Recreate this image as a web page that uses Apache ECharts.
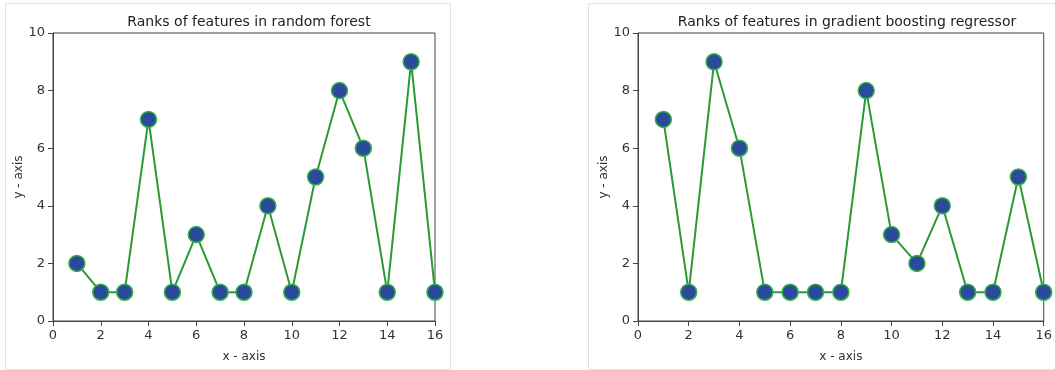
<!DOCTYPE html>
<html>
<head>
<meta charset="utf-8">
<script src="https://cdn.jsdelivr.net/npm/echarts@6/dist/echarts.min.js"></script>
<style>html,body{margin:0;padding:0;background:#fff;}#c{width:1055px;height:370px;}</style>
</head>
<body>
<div id="c"></div>
<script>
var xValues = [1,2,3,4,5,6,7,8,9,10,11,12,13,14,15,16];
var rfRanks = [2,1,1,7,1,3,1,1,4,1,5,8,6,1,9,1];
var gbrRanks = [7,1,9,6,1,1,1,1,8,3,2,4,1,1,5,1];
var titles = ['Ranks of features in random forest', 'Ranks of features in gradient boosting regressor'];

function pairs(ys){ return xValues.map(function(x,i){ return [x, ys[i]]; }); }

var font = 'DejaVu Sans';
var grids = [
  {left:53, right:620, top:33, bottom:49, show:true, borderColor:'#444', borderWidth:1},
  {left:638, right:8, top:33, bottom:49, show:true, borderColor:'#444', borderWidth:1}
];
function xAxis(i){
  return {gridIndex:i, type:'value', min:0, max:16, interval:2,
    name:'x - axis', nameLocation:'middle', nameGap:30,
    nameTextStyle:{fontFamily:font, fontSize:12, color:'#333'},
    axisLine:{lineStyle:{color:'#444'}}, axisTick:{show:true, length:5, lineStyle:{color:'#444'}},
    axisLabel:{fontFamily:font, fontSize:13, color:'#333', margin:8}, splitLine:{show:false}};
}
function yAxis(i){
  return {gridIndex:i, type:'value', min:0, max:10, interval:2,
    name:'y - axis', nameLocation:'middle', nameGap:25, nameRotate:90,
    nameTextStyle:{fontFamily:font, fontSize:12, color:'#333'},
    axisLine:{show:true, lineStyle:{color:'#444'}}, axisTick:{show:true, length:5, lineStyle:{color:'#444'}},
    axisLabel:{fontFamily:font, fontSize:13, color:'#333', margin:8}, splitLine:{show:false}};
}
function series(i, ys){
  return {type:'line', xAxisIndex:i, yAxisIndex:i, data:pairs(ys), symbol:'circle', symbolSize:16,
    showAllSymbol:true, clip:true,
    lineStyle:{color:'#2a9a35', width:2},
    itemStyle:{color:'#2b4a9c', borderColor:'#36b043', borderWidth:1.5}};
}
var chart = echarts.init(document.getElementById('c'), null, {renderer:'canvas'});
chart.setOption({
  animation:false,
  backgroundColor:'#fff',
  title:[
    {text:titles[0], left:244, top:10, textAlign:'center', textStyle:{fontFamily:font, fontSize:14, fontWeight:'normal', color:'#222'}},
    {text:titles[1], left:842, top:10, textAlign:'center', textStyle:{fontFamily:font, fontSize:14, fontWeight:'normal', color:'#222'}}
  ],
  graphic:[
    {type:'rect', shape:{x:5.5, y:3.5, width:445, height:366}, style:{fill:null, stroke:'#e2e2e2', lineWidth:1}, silent:true},
    {type:'rect', shape:{x:588.5, y:3.5, width:470, height:366}, style:{fill:null, stroke:'#e2e2e2', lineWidth:1}, silent:true}
  ],
  grid:grids,
  xAxis:[xAxis(0), xAxis(1)],
  yAxis:[yAxis(0), yAxis(1)],
  series:[series(0, rfRanks), series(1, gbrRanks)]
});
</script>
</body>
</html>
